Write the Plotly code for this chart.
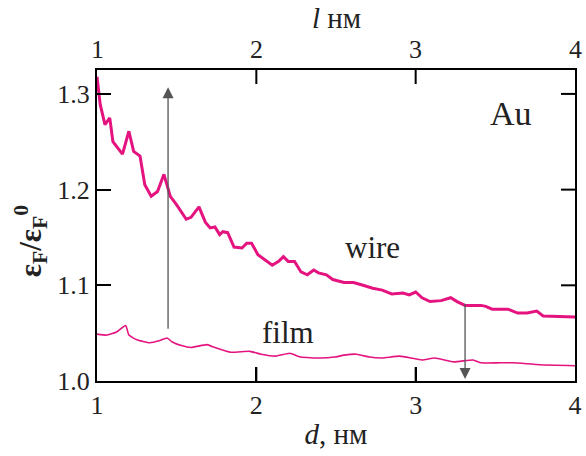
import plotly.graph_objects as go

# wire curve (d in nm, eps_F/eps_F0)
wire_d = [1.00, 1.02, 1.05, 1.08, 1.10, 1.16, 1.20, 1.23, 1.27, 1.30, 1.34, 1.38, 1.42, 1.46,
          1.50, 1.56, 1.59, 1.64, 1.68, 1.71, 1.74, 1.77, 1.79, 1.82, 1.86, 1.91, 1.94, 1.97,
          2.01, 2.07, 2.10, 2.14, 2.17, 2.20, 2.24, 2.28, 2.32, 2.36, 2.39, 2.44, 2.48, 2.55,
          2.61, 2.67, 2.73, 2.79, 2.85, 2.92, 2.96, 3.00, 3.04, 3.09, 3.16, 3.22, 3.26, 3.31,
          3.41, 3.44, 3.48, 3.58, 3.62, 3.64, 3.70, 3.76, 3.80, 4.00]
wire_v = [1.318, 1.289, 1.268, 1.275, 1.250, 1.237, 1.261, 1.240, 1.235, 1.205, 1.193, 1.198,
          1.216, 1.193, 1.184, 1.169, 1.171, 1.182, 1.166, 1.160, 1.161, 1.153, 1.156, 1.155,
          1.140, 1.139, 1.144, 1.144, 1.132, 1.125, 1.121, 1.125, 1.130, 1.125, 1.125, 1.114,
          1.111, 1.116, 1.113, 1.111, 1.106, 1.103, 1.103, 1.100, 1.097, 1.095, 1.091, 1.092,
          1.090, 1.093, 1.087, 1.083, 1.084, 1.087, 1.083, 1.079, 1.079, 1.078, 1.075, 1.075,
          1.072, 1.071, 1.071, 1.073, 1.068, 1.067]

# film curve
film_d = [1.00, 1.06, 1.12, 1.18, 1.20, 1.25, 1.33, 1.39, 1.44, 1.47, 1.53, 1.59, 1.69, 1.74,
          1.84, 1.96, 2.03, 2.12, 2.21, 2.28, 2.40, 2.49, 2.55, 2.63, 2.71, 2.79, 2.90, 3.04,
          3.12, 3.24, 3.36, 3.41, 3.53, 3.61, 3.78, 4.00]
film_v = [1.049, 1.048, 1.051, 1.058, 1.048, 1.043, 1.040, 1.042, 1.045, 1.041, 1.037, 1.035,
          1.038, 1.035, 1.030, 1.031, 1.028, 1.026, 1.029, 1.025, 1.024, 1.025, 1.027, 1.028,
          1.025, 1.024, 1.026, 1.022, 1.024, 1.020, 1.022, 1.019, 1.019, 1.019, 1.017, 1.016]

x_ticks = [1, 2, 3, 4]
y_ticks = [1.0, 1.1, 1.2, 1.3]
y_tick_labels = ["1.0", "1.1", "1.2", "1.3"]
x_range = [1, 4]
y_range = [1.0, 1.325]

MAG = "#e4137f"
SERIF = "Liberation Serif"
TXT = "#222"
TICK_LEN = 14

fig = go.Figure()
fig.add_trace(go.Scatter(x=wire_d, y=wire_v, mode="lines",
                         line=dict(color=MAG, width=3), showlegend=False))
fig.add_trace(go.Scatter(x=film_d, y=film_v, mode="lines",
                         line=dict(color=MAG, width=1.6, shape="spline", smoothing=0.4),
                         showlegend=False))

axis_common = dict(showline=True, linecolor="black", linewidth=2, ticks="inside",
                   ticklen=TICK_LEN, tickwidth=2, tickcolor="black", showgrid=False,
                   zeroline=False, mirror=True,
                   tickfont=dict(family=SERIF, size=26, color=TXT))

fig.update_layout(
    width=586, height=456,
    margin=dict(l=97, r=4, t=70, b=75),
    plot_bgcolor="white", paper_bgcolor="white",
    xaxis=dict(range=x_range, tickvals=x_ticks, ticktext=[str(v) for v in x_ticks],
               ticklabeloverflow="allow",
               title=dict(text="<i>d</i>, нм", font=dict(family=SERIF, size=29, color=TXT),
                          standoff=4),
               **axis_common),
    yaxis=dict(range=y_range, tickvals=y_ticks, ticktext=y_tick_labels,
               **axis_common),
)

# inner tick marks on bottom, top and right sides (positioned by the axis scales)
inner_x = [v for v in x_ticks if x_range[0] < v < x_range[1]]
inner_y = [v for v in y_ticks if y_range[0] < v < y_range[1]]
tick_line = dict(color="black", width=2)
for v in inner_x:
    fig.add_shape(type="line", xref="x", yref="paper", ysizemode="pixel", yanchor=0,
                  x0=v, x1=v, y0=0, y1=TICK_LEN, line=tick_line, layer="above")
    fig.add_shape(type="line", xref="x", yref="paper", ysizemode="pixel", yanchor=1,
                  x0=v, x1=v, y0=0, y1=-TICK_LEN, line=tick_line, layer="above")
for v in inner_y:
    fig.add_shape(type="line", xref="paper", yref="y", xsizemode="pixel", xanchor=1,
                  x0=0, x1=-TICK_LEN, y0=v, y1=v, line=tick_line, layer="above")

# y axis title
fig.add_annotation(x=0, y=1.146, xref="paper", yref="y", xanchor="center", yanchor="middle",
                   xshift=-66, textangle=-90, showarrow=False,
                   text="<b>ε<sub>F</sub>/ε<sub>F</sub><sup>0</sup></b>",
                   font=dict(family=SERIF, size=31, color=TXT))

# top tick labels (same scale as bottom axis) and top axis title
for v in x_ticks:
    fig.add_annotation(x=v, y=1.0, xref="x", yref="paper", yanchor="bottom", yshift=4,
                       text=str(v), showarrow=False,
                       font=dict(family=SERIF, size=26, color=TXT))
fig.add_annotation(x=0.5, y=1.0, xref="paper", yref="paper", yanchor="bottom", yshift=34,
                   text="<i>l</i> нм", showarrow=False,
                   font=dict(family=SERIF, size=29, color=TXT))

# arrows
fig.add_annotation(x=1.446, y=1.307, ax=1.446, ay=1.053, xref="x", yref="y",
                   axref="x", ayref="y", showarrow=True, arrowhead=2, arrowsize=1.7,
                   arrowwidth=1.3, arrowcolor="#555", text="")
fig.add_annotation(x=3.31, y=1.002, ax=3.31, ay=1.082, xref="x", yref="y",
                   axref="x", ayref="y", showarrow=True, arrowhead=2, arrowsize=1.7,
                   arrowwidth=1.3, arrowcolor="#555", text="")

# labels
fig.add_annotation(x=3.6, y=1.28, text="Au", showarrow=False,
                   font=dict(family=SERIF, size=34, color=TXT))
fig.add_annotation(x=2.73, y=1.139, text="wire", showarrow=False,
                   font=dict(family=SERIF, size=31, color=TXT))
fig.add_annotation(x=2.2, y=1.051, text="film", showarrow=False,
                   font=dict(family=SERIF, size=31, color=TXT))

fig.write_html("out.html")
